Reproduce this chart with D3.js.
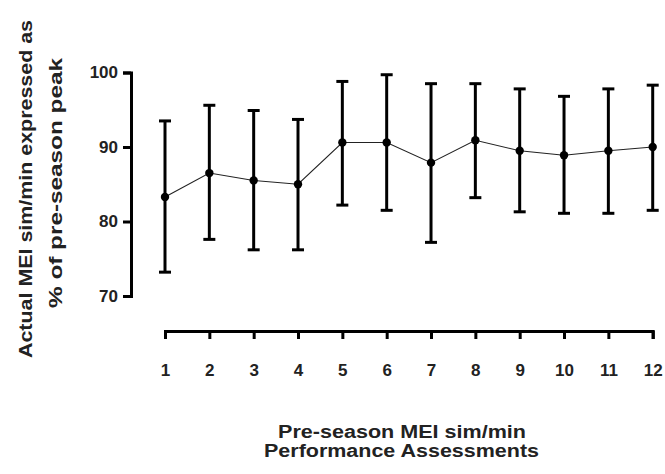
<!DOCTYPE html>
<html>
<head>
<meta charset="utf-8">
<script src="https://cdn.jsdelivr.net/npm/d3@7"></script>
<style>
  body { margin: 0; background: #fff; }
  text { font-family: "Liberation Sans", Arial, sans-serif; font-weight: bold; }
</style>
</head>
<body>
<div id="chart"></div>
<script>
// data
const assessments = [1, 2, 3, 4, 5, 6, 7, 8, 9, 10, 11, 12];
const means = [83.3, 86.5, 85.5, 85.0, 90.6, 90.6, 87.9, 90.9, 89.5, 88.9, 89.5, 90.0];
const upper = [93.5, 95.6, 94.9, 93.7, 98.8, 99.7, 98.5, 98.5, 97.8, 96.8, 97.8, 98.3];
const lower = [73.2, 77.6, 76.2, 76.2, 82.2, 81.5, 77.2, 83.2, 81.3, 81.1, 81.1, 81.5];
const yTicks = [70, 80, 90, 100];

const width = 665, height = 474;

const svg = d3.select('#chart').append('svg')
  .attr('width', width)
  .attr('height', height);

const x = d3.scaleLinear().domain([1, 12]).range([165, 652.7]);
const y = d3.scaleLinear().domain([70, 100]).range([296, 72.5]);

const rows = assessments.map((a, i) => ({ a, m: means[i], hi: upper[i], lo: lower[i] }));

// y axis
const yAxis = svg.append('g')
  .attr('transform', 'translate(131,0)')
  .call(d3.axisLeft(y).tickValues(yTicks).tickSizeOuter(0).tickSize(8).tickPadding(5));
yAxis.select('.domain').attr('stroke-width', 3);
yAxis.selectAll('.tick line').attr('stroke-width', 3);
yAxis.selectAll('.tick text').attr('font-size', 17).attr('fill', '#222');

// x axis
const xAxis = svg.append('g')
  .attr('transform', 'translate(0,331)')
  .call(d3.axisBottom(x).tickValues(assessments).tickFormat(d3.format('d'))
    .tickSizeOuter(0).tickSize(8).tickPadding(25));
xAxis.select('.domain').attr('stroke-width', 3);
xAxis.selectAll('.tick line').attr('stroke-width', 3);
xAxis.selectAll('.tick text').attr('font-size', 17).attr('fill', '#222');

// connecting line
svg.append('path')
  .datum(rows)
  .attr('fill', 'none')
  .attr('stroke', '#222')
  .attr('stroke-width', 1.1)
  .attr('d', d3.line().x(d => x(d.a)).y(d => y(d.m)));

// error bars
const bars = svg.append('g').attr('stroke', '#000').attr('stroke-width', 3);
bars.selectAll('line.v').data(rows).join('line')
  .attr('class', 'v')
  .attr('x1', d => x(d.a)).attr('x2', d => x(d.a))
  .attr('y1', d => y(d.hi)).attr('y2', d => y(d.lo));
bars.selectAll('line.hi').data(rows).join('line')
  .attr('class', 'hi')
  .attr('x1', d => x(d.a) - 6).attr('x2', d => x(d.a) + 6)
  .attr('y1', d => y(d.hi)).attr('y2', d => y(d.hi));
bars.selectAll('line.lo').data(rows).join('line')
  .attr('class', 'lo')
  .attr('x1', d => x(d.a) - 6).attr('x2', d => x(d.a) + 6)
  .attr('y1', d => y(d.lo)).attr('y2', d => y(d.lo));

// markers
svg.append('g').selectAll('circle').data(rows).join('circle')
  .attr('cx', d => x(d.a))
  .attr('cy', d => y(d.m))
  .attr('r', 4.2)
  .attr('fill', '#000');

// axis titles
const yTitle = svg.append('text')
  .attr('transform', 'rotate(-90)')
  .attr('text-anchor', 'middle')
  .attr('font-size', 18)
  .attr('fill', '#222');
yTitle.append('tspan').attr('x', -189).attr('y', 32)
  .attr('textLength', 338).attr('lengthAdjust', 'spacingAndGlyphs')
  .text('Actual MEI sim/min expressed as');
yTitle.append('tspan').attr('x', -183).attr('y', 62)
  .attr('textLength', 250).attr('lengthAdjust', 'spacingAndGlyphs')
  .text('% of pre-season peak');

const xTitle = svg.append('text')
  .attr('text-anchor', 'middle')
  .attr('font-size', 18)
  .attr('fill', '#222');
xTitle.append('tspan').attr('x', 402).attr('y', 438)
  .attr('textLength', 248).attr('lengthAdjust', 'spacingAndGlyphs')
  .text('Pre-season MEI sim/min');
xTitle.append('tspan').attr('x', 401.5).attr('y', 457)
  .attr('textLength', 275).attr('lengthAdjust', 'spacingAndGlyphs')
  .text('Performance Assessments');
</script>
</body>
</html>
